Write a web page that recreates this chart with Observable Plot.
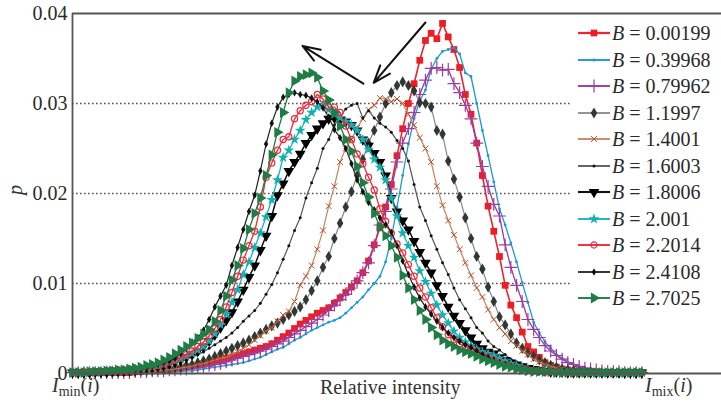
<!DOCTYPE html>
<html>
<head>
<meta charset="utf-8">
<script src="https://cdn.jsdelivr.net/npm/d3@7"></script>
<script src="https://cdn.jsdelivr.net/npm/@observablehq/plot@0.6"></script>
<style>
  body { margin: 0; background: #fff; }
  #wrap { position: relative; width: 721px; height: 402px; font-family: "Liberation Serif", "DejaVu Serif", serif; color: #333; overflow: hidden; }
  .lbl { position: absolute; font-size: 20px; white-space: nowrap; line-height: 1; }
  .lbl sub { font-size: 14px; vertical-align: -4px; line-height: 0; }
  #legend { position: absolute; left: 572px; top: 18px; width: 149px; height: 294px; background: #fff; }
  .lrow { position: absolute; left: 0; height: 26px; width: 149px; }
  .lrow svg { position: absolute; left: 5px; top: 3px; }
  .lrow span { position: absolute; left: 40px; top: 3px; font-size: 20px; line-height: 20px; white-space: nowrap; color: #2a2a2a; }
</style>
</head>
<body>
<div id="wrap"></div>
<script>
// ---- data (p values given in units of 1e-3, one per intensity bin 0..100) ----
const intensityBins = d3.range(0, 101);
const yTicks = [0, 0.01, 0.02, 0.03, 0.04];
const gridTicks = [0.01, 0.02, 0.03];
const bLabels = ["0.00199","0.39968","0.79962","1.1997","1.4001","1.6003","1.8006","2.001","2.2014","2.4108","2.7025"];

const pB00199 = [0.1,0.1,0.1,0.1,0.1,0.1,0.1,0.1,0.1,0.1,0.1,
  0.2,0.2,0.3,0.3,0.3,0.4,0.4,0.5,0.6,0.7,
  0.8,0.9,1.0,1.1,1.3,1.5,1.7,1.8,2.0,2.2,
  2.4,2.6,2.8,3.0,3.3,3.7,4.1,4.5,5.0,5.5,
  5.9,6.3,6.7,7.0,7.3,7.8,8.4,9.0,9.6,10.3,
  11.2,12.5,14.3,16.2,18.5,21.0,24.2,27.2,30.0,32.2,
  34.8,37.0,37.8,37.2,38.9,37.4,36.0,34.0,31.0,28.8,
  25.6,22.0,18.6,15.8,13.0,9.8,7.6,6.2,4.6,3.0,
  2.4,1.8,1.2,0.9,0.7,0.5,0.4,0.3,0.3,0.2,
  0.2,0.2,0.1,0.1,0.1,0.1,0.1,0.1,0.1,0.1];
const pB39968 = [0.1,0.1,0.1,0.1,0.1,0.1,0.1,0.1,0.1,0.1,0.1,
  0.1,0.1,0.1,0.1,0.1,0.2,0.2,0.2,0.2,0.3,
  0.3,0.4,0.5,0.6,0.7,0.8,0.9,1.0,1.1,1.2,
  1.4,1.6,1.8,2.1,2.4,2.7,2.9,3.3,3.7,4.0,
  4.4,4.8,5.1,5.4,5.7,5.9,6.2,6.7,7.3,7.9,
  8.5,9.3,10.0,10.8,12.4,15.0,18.5,22.0,25.5,28.3,
  30.3,31.5,33.8,35.0,35.8,36.0,36.2,35.5,33.4,33.0,
  30.0,27.0,24.2,21.3,18.3,16.5,14.5,12.4,10.1,7.9,
  5.7,4.5,3.5,2.8,2.1,1.7,1.3,1.0,0.7,0.5,
  0.4,0.3,0.2,0.2,0.2,0.1,0.1,0.1,0.1,0.1];
const pB79962 = [0.1,0.1,0.1,0.1,0.1,0.1,0.1,0.1,0.1,0.1,0.1,
  0.2,0.2,0.2,0.3,0.3,0.3,0.4,0.4,0.5,0.5,
  0.6,0.7,0.8,0.9,1.0,1.1,1.3,1.5,1.7,1.9,
  2.1,2.3,2.5,2.7,3.0,3.3,3.6,4.0,4.4,4.8,
  5.2,5.6,6.0,6.5,7.0,7.6,8.2,8.8,9.5,10.3,
  11.2,12.3,14.2,16.5,18.0,20.5,23.5,25.6,27.2,29.0,
  31.0,32.6,33.9,34.0,33.7,33.8,32.2,31.2,29.8,28.3,
  25.6,23.0,20.8,18.8,17.5,14.3,11.8,9.8,8.0,6.0,
  4.9,4.0,3.1,2.5,2.0,1.6,1.2,1.0,0.8,0.6,
  0.5,0.4,0.3,0.2,0.2,0.2,0.1,0.1,0.1,0.1];
const pB11997 = [0.1,0.1,0.1,0.1,0.1,0.1,0.1,0.1,0.2,0.2,0.2,
  0.2,0.3,0.3,0.3,0.4,0.4,0.5,0.6,0.7,0.9,
  1.0,1.2,1.4,1.6,1.9,2.2,2.5,2.8,3.1,3.4,
  3.7,4.1,4.5,4.9,5.3,5.6,6.0,6.5,6.9,7.4,
  8.2,9.2,10.3,11.8,13.0,15.0,16.7,18.5,20.2,22.0,
  23.8,25.6,27.0,28.5,30.0,31.2,32.0,32.4,32.0,31.4,
  30.1,30.0,29.6,27.0,26.6,23.6,21.6,19.6,17.3,15.0,
  13.0,11.6,9.6,8.0,6.3,5.4,4.4,3.4,2.8,2.3,
  1.9,1.5,1.2,0.9,0.7,0.5,0.4,0.3,0.2,0.2,
  0.2,0.1,0.1,0.1,0.1,0.1,0.1,0.1,0.1,0.1];
const pB14001 = [0.1,0.1,0.1,0.1,0.1,0.1,0.1,0.1,0.1,0.2,0.2,
  0.2,0.2,0.3,0.3,0.3,0.4,0.4,0.5,0.6,0.7,
  0.8,1.0,1.1,1.3,1.5,1.7,1.8,2.1,2.4,2.8,
  3.2,3.7,4.2,4.7,5.1,5.8,6.5,6.9,8.0,9.8,
  10.8,12.0,13.8,15.9,18.6,20.8,23.5,25.0,26.0,27.3,
  28.3,29.3,29.8,30.6,30.5,30.2,30.5,30.0,28.8,27.6,
  26.2,25.0,23.5,20.8,18.7,17.0,15.4,13.8,12.3,10.9,
  9.5,8.5,7.1,6.0,5.1,4.4,3.6,3.1,2.5,2.1,
  1.6,1.3,1.0,0.8,0.6,0.5,0.4,0.3,0.2,0.2,
  0.2,0.1,0.1,0.1,0.1,0.1,0.1,0.1,0.1,0.1];
const pB16003 = [0.1,0.1,0.1,0.1,0.2,0.2,0.2,0.2,0.3,0.3,0.3,
  0.4,0.4,0.5,0.6,0.7,0.8,1.0,1.1,1.3,1.6,
  1.8,2.1,2.4,2.8,3.2,3.6,4.0,4.5,5.1,5.8,
  6.4,7.0,7.8,8.8,9.9,11.2,12.7,14.2,15.9,17.3,
  19.5,21.2,22.8,25.0,26.0,27.6,28.5,29.4,29.8,30.0,
  28.4,29.2,28.4,27.8,27.4,26.8,25.9,25.0,23.6,21.0,
  18.5,17.0,15.3,13.8,12.3,11.0,9.5,8.2,7.2,6.2,
  5.1,4.5,3.6,3.0,2.6,2.1,1.6,1.3,1.0,0.8,
  0.6,0.5,0.4,0.3,0.2,0.2,0.2,0.1,0.1,0.1,
  0.1,0.1,0.1,0.1,0.1,0.1,0.1,0.1,0.1,0.1];
const pB18006 = [0.1,0.1,0.1,0.1,0.2,0.2,0.2,0.3,0.3,0.3,0.4,
  0.4,0.5,0.6,0.7,0.8,0.9,1.1,1.3,1.5,1.8,
  2.1,2.5,3.0,3.6,4.3,5.1,5.9,6.8,8.0,9.3,
  10.7,12.0,13.7,15.3,17.5,19.8,21.1,22.5,23.5,24.4,
  25.6,26.5,27.2,27.8,28.3,28.4,28.2,28.0,27.6,27.0,
  26.0,25.3,24.5,23.5,22.0,19.5,18.0,17.0,16.0,14.7,
  13.5,12.3,11.2,9.8,8.6,7.4,6.4,5.6,4.8,4.0,
  3.3,2.8,2.4,2.2,1.8,1.5,1.2,1.0,0.8,0.6,
  0.5,0.4,0.3,0.2,0.2,0.2,0.1,0.1,0.1,0.1,
  0.1,0.1,0.1,0.1,0.1,0.1,0.1,0.1,0.1,0.1];
const pB2001 = [0.1,0.1,0.1,0.2,0.2,0.2,0.3,0.3,0.3,0.4,0.4,
  0.5,0.6,0.7,0.8,0.9,1.0,1.2,1.4,1.6,1.9,
  2.2,2.6,3.0,3.6,4.4,5.4,6.6,7.9,9.3,11.0,
  12.4,14.0,15.6,17.4,19.3,21.5,24.0,24.8,26.0,27.0,
  28.2,29.0,29.6,29.8,29.3,28.8,28.4,28.0,27.6,27.0,
  26.0,24.9,23.8,22.9,21.5,19.5,17.5,15.6,14.2,12.9,
  11.4,10.2,8.9,7.6,6.5,5.6,4.7,4.0,3.5,3.1,
  2.7,2.4,2.2,2.0,1.7,1.4,1.1,0.9,0.7,0.5,
  0.4,0.3,0.3,0.2,0.2,0.2,0.1,0.1,0.1,0.1,
  0.1,0.1,0.1,0.1,0.1,0.1,0.1,0.1,0.1,0.1];
const pB22014 = [0.1,0.1,0.2,0.2,0.2,0.2,0.3,0.3,0.4,0.4,0.5,
  0.5,0.6,0.7,0.8,0.9,1.1,1.3,1.5,1.8,2.1,
  2.5,3.0,3.5,4.2,5.0,6.0,7.4,9.0,10.8,12.6,
  14.2,15.8,18.5,21.8,23.4,24.8,26.0,26.3,28.3,29.2,
  29.8,30.2,31.0,30.5,29.6,29.6,29.0,27.5,26.0,24.4,
  23.3,21.8,20.4,18.3,16.9,15.6,14.4,13.4,12.1,10.8,
  9.5,8.5,7.3,6.2,5.2,4.3,3.8,3.3,3.0,2.7,
  2.4,2.0,1.8,1.5,1.2,1.0,0.8,0.6,0.5,0.4,
  0.3,0.3,0.2,0.2,0.2,0.1,0.1,0.1,0.1,0.1,
  0.1,0.1,0.1,0.1,0.1,0.1,0.1,0.1,0.1,0.1];
const pB24108 = [0.1,0.1,0.1,0.2,0.2,0.2,0.2,0.3,0.3,0.3,0.4,
  0.4,0.5,0.6,0.8,1.0,1.2,1.4,1.7,2.2,2.8,
  3.5,4.0,4.8,6.0,7.4,8.6,9.8,12.0,14.0,16.0,
  18.0,19.8,22.5,25.5,27.8,29.6,30.7,31.0,31.2,31.0,
  30.9,30.6,30.2,29.5,28.5,27.1,26.2,25.0,23.3,21.5,
  20.2,19.0,18.2,17.3,16.5,15.7,14.2,12.5,11.0,9.6,
  8.4,7.4,6.6,5.8,5.1,4.5,4.0,3.6,3.2,2.9,
  2.5,2.1,1.8,1.5,1.2,1.0,0.8,0.6,0.5,0.4,
  0.3,0.3,0.2,0.2,0.1,0.1,0.1,0.1,0.1,0.1,
  0.1,0.1,0.1,0.1,0.1,0.1,0.1,0.1,0.1,0.1];
const pB27025 = [0.1,0.1,0.1,0.2,0.2,0.2,0.3,0.3,0.4,0.4,0.5,
  0.6,0.7,0.9,1.0,1.2,1.5,1.8,2.2,2.6,3.0,
  3.4,3.9,4.4,4.9,5.8,7.0,8.6,10.4,12.0,13.9,
  16.0,17.8,19.5,22.0,24.3,26.8,29.0,31.2,32.5,33.0,
  33.2,33.4,32.9,31.4,30.4,29.0,27.5,26.0,24.7,23.0,
  21.2,19.6,17.8,16.3,15.3,14.2,12.9,10.9,9.5,8.2,
  7.0,6.0,5.1,4.3,3.7,3.3,3.0,2.6,2.4,2.2,
  1.9,1.6,1.4,1.2,1.0,0.8,0.7,0.5,0.4,0.3,
  0.2,0.2,0.2,0.2,0.1,0.1,0.1,0.1,0.1,0.1,
  0.1,0.1,0.1,0.1,0.1,0.1,0.1,0.1,0.1,0.1];

const seriesValues = [pB00199, pB39968, pB79962, pB11997, pB14001, pB16003, pB18006, pB2001, pB22014, pB24108, pB27025];

// arrow annotations (data units)
const arrowNotes = [
  {x1: 51.1, y1: 0.0322, x2: 40.4, y2: 0.0364},
  {x1: 62.0, y1: 0.0390, x2: 52.9, y2: 0.0323}
];

// ---- styles ----
const sqrt3 = Math.sqrt(3);
const triDown = { draw(ctx, size) { const y = -Math.sqrt(size / (sqrt3 * 3)); ctx.moveTo(0, -2 * y); ctx.lineTo(-sqrt3 * y, y); ctx.lineTo(sqrt3 * y, y); ctx.closePath(); } };
const triRight = { draw(ctx, size) { const y = -Math.sqrt(size / (sqrt3 * 3)); ctx.moveTo(-2 * y, 0); ctx.lineTo(y, -sqrt3 * y); ctx.lineTo(y, sqrt3 * y); ctx.closePath(); } };

const styles = [
  {line: "#ea2630", lw: 1.6, sym: d3.symbolSquare, r: 3.8, fill: "#ee1c25", stroke: "none", sw: 0},
  {line: "#1b98d6", lw: 1.3, sym: d3.symbolCircle, r: 1.4, fill: "#1b98d6", stroke: "none", sw: 0},
  {line: "#9c3c9f", lw: 1.3, sym: d3.symbolPlus, r: 4.2, fill: "none", stroke: "#9c3c9f", sw: 1.2},
  {line: "#888888", lw: 1.2, sym: d3.symbolDiamond, r: 3.4, fill: "#2f3833", stroke: "none", sw: 0},
  {line: "#c48460", lw: 1.2, sym: d3.symbolTimes, r: 2.8, fill: "none", stroke: "#b5532d", sw: 1.0},
  {line: "#555555", lw: 1.2, sym: d3.symbolCircle, r: 1.5, fill: "#111111", stroke: "none", sw: 0},
  {line: "#111111", lw: 1.5, sym: triDown, r: 4.0, fill: "#000000", stroke: "none", sw: 0},
  {line: "#1ab4b8", lw: 1.3, sym: d3.symbolStar, r: 3.4, fill: "#12b0b2", stroke: "none", sw: 0},
  {line: "#ee2a3c", lw: 1.3, sym: d3.symbolCircle, r: 3.1, fill: "none", stroke: "#ee2a3c", sw: 1.2},
  {line: "#222222", lw: 1.2, sym: d3.symbolDiamond, r: 2.3, fill: "#111111", stroke: "none", sw: 0},
  {line: "#1e7d44", lw: 1.3, sym: triRight, r: 4.0, fill: "#1e7d44", stroke: "none", sw: 0}
];

// ---- build table ----
const table = bLabels.flatMap((b, s) => {
  if (seriesValues[s].length !== intensityBins.length) console.error("length mismatch", b, seriesValues[s].length);
  return intensityBins.map((i, k) => ({B: b, i, p: seriesValues[s][k] / 1000}));
});

const seriesMarks = bLabels.flatMap((b, s) => {
  const st = styles[s];
  const rows = table.filter(d => d.B === b);
  return [
    Plot.line(rows, {x: "i", y: "p", stroke: st.line, strokeWidth: st.lw}),
    Plot.dot(rows, {x: "i", y: "p", symbol: st.sym, r: st.r, fill: st.fill, stroke: st.stroke, strokeWidth: st.sw})
  ];
});

const chart = Plot.plot({
  width: 721,
  height: 402,
  marginLeft: 72,
  marginRight: 0,
  marginTop: 13,
  marginBottom: 29,
  style: {fontFamily: "'Liberation Serif', 'DejaVu Serif', serif", fontSize: "20px", color: "#333", background: "#fff"},
  x: {domain: [0, 114], axis: null},
  y: {domain: [0, 0.04], axis: null},
  marks: [
    Plot.ruleY(gridTicks, {stroke: "#555", strokeWidth: 1.6, strokeDasharray: "1.6,2.4"}),
    ...seriesMarks,
    Plot.arrow(arrowNotes, {x1: "x1", y1: "y1", x2: "x2", y2: "y2", stroke: "#111", strokeWidth: 2, headLength: 14, headAngle: 40}),
    Plot.ruleY([0, 0.04], {stroke: "#555", strokeWidth: 1.8}),
    Plot.ruleX([0], {stroke: "#555", strokeWidth: 1.8}),
    Plot.axisY({ticks: yTicks, tickSize: 0, tickPadding: 5, tickFormat: d => d === 0 ? "0" : d.toFixed(2), fill: "#2a2a2a"})
  ]
});

const wrap = document.getElementById("wrap");
wrap.appendChild(chart);

// axis labels
const addLabel = (html, css) => {
  const el = document.createElement("div");
  el.className = "lbl";
  el.innerHTML = html;
  Object.assign(el.style, css);
  wrap.appendChild(el);
  return el;
};
addLabel("<i>I</i><sub>min</sub>(<i>i</i>)", {left: "52px", top: "375px"});
addLabel("Relative intensity", {left: "320px", top: "377px"});
addLabel("<i>I</i><sub>mix</sub>(<i>i</i>)", {left: "645px", top: "375px"});
addLabel("<i>p</i>", {left: "10px", top: "180px", transform: "rotate(-90deg)"});

// legend
const legend = d3.select(wrap).append("div").attr("id", "legend");
bLabels.forEach((b, s) => {
  const st = styles[s];
  const row = legend.append("div").attr("class", "lrow").style("top", (2 + 26.5 * s) + "px");
  const sv = row.append("svg").attr("width", 34).attr("height", 20);
  sv.append("line").attr("x1", 1).attr("x2", 33).attr("y1", 10).attr("y2", 10)
    .attr("stroke", st.line).attr("stroke-width", st.lw + 0.6);
  sv.append("path").attr("transform", "translate(17,10)")
    .attr("d", d3.symbol(st.sym, st.r * st.r * Math.PI)())
    .attr("fill", st.fill).attr("stroke", st.stroke === "none" ? null : st.stroke)
    .attr("stroke-width", st.sw);
  row.append("span").html("<i>B</i> = " + b);
});
</script>
</body>
</html>
